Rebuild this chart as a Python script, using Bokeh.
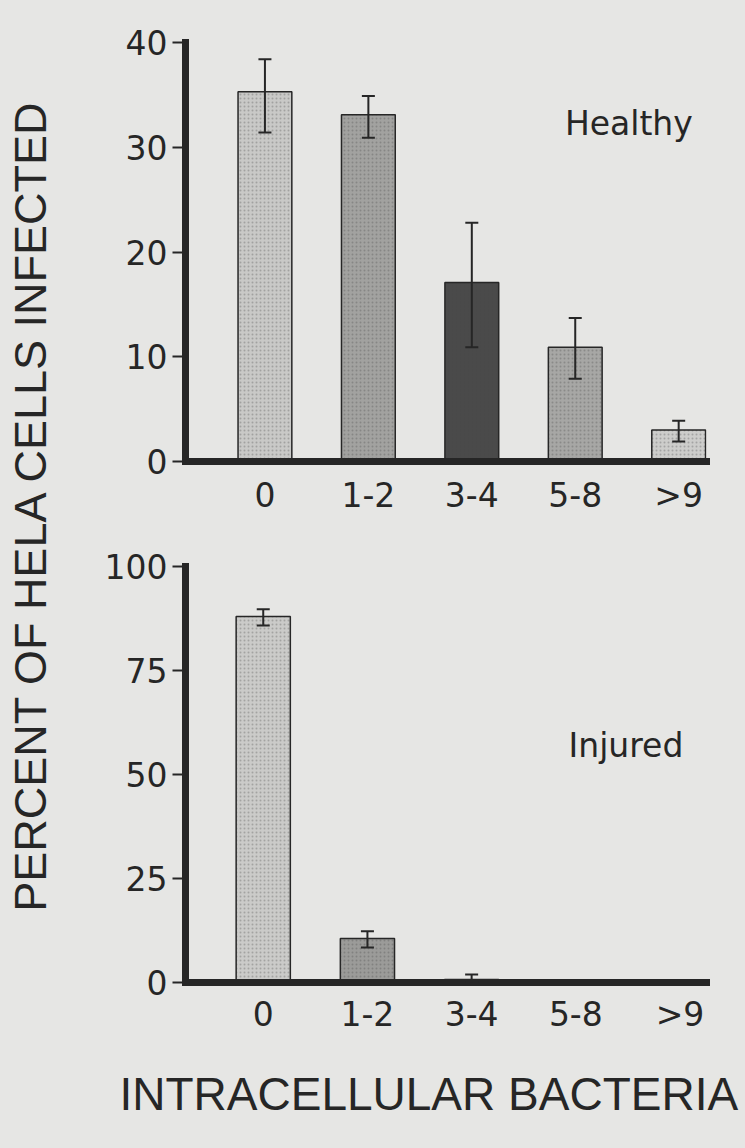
from bokeh.plotting import figure
from bokeh.models import Range1d, FixedTicker, ColumnDataSource, Whisker, TeeHead, Label, Title
from bokeh.layouts import row, column
from bokeh.embed import file_html
from bokeh.resources import INLINE
import math

# ---------------- data ----------------
categories = ["0", "1-2", "3-4", "5-8", ">9"]

healthy_values = [35.3, 33.1, 17.1, 10.9, 3.0]
healthy_lower = [31.4, 30.9, 10.9, 7.9, 1.9]
healthy_upper = [38.4, 34.9, 22.8, 13.7, 3.9]

injured_values = [88.0, 10.6, 0.7, 0.0, 0.0]
injured_lower = [85.8, 8.4, 0.0, 0.0, 0.0]
injured_upper = [89.7, 12.3, 1.9, 0.0, 0.0]

healthy_ticks = [0, 10, 20, 30, 40]
injured_ticks = [0, 25, 50, 75, 100]

healthy_colors = ["#c9c9c7", "#a2a2a0", "#4a4a4a", "#a7a7a5", "#cdcdcb"]
injured_colors = ["#cbcbc9", "#9b9b99", "#c2c2c0", "#c2c2c0", "#c2c2c0"]

# ---------------- style ----------------
BG = "#e6e6e4"
INK = "#262626"
SMALL_FONT = "DejaVu Sans"
BIG_FONT = "Liberation Sans"

TOTAL_W = 745
TOTAL_H = 1148
STRIP_W = 70
PANEL_W = TOTAL_W - STRIP_W
TOP_H = 530
BOT_H = TOTAL_H - TOP_H


def base_fig(width, height, y_end, x_start, x_end, borders):
    p = figure(width=width, height=height, output_backend="svg", toolbar_location=None,
               x_range=Range1d(x_start, x_end), y_range=Range1d(0, y_end),
               min_border_left=borders[0], min_border_right=borders[1],
               min_border_top=borders[2], min_border_bottom=borders[3])
    p.background_fill_color = BG
    p.border_fill_color = BG
    p.outline_line_color = None
    p.xgrid.visible = False
    p.ygrid.visible = False
    return p


def blank_fig(width, height):
    p = figure(width=width, height=height, output_backend="svg", toolbar_location=None,
               x_range=Range1d(0, width), y_range=Range1d(0, height),
               x_axis_type=None, y_axis_type=None,
               min_border_left=0, min_border_right=0, min_border_top=0, min_border_bottom=0)
    p.background_fill_color = BG
    p.border_fill_color = BG
    p.outline_line_color = None
    p.xgrid.visible = False
    p.ygrid.visible = False
    return p


def style_axes(p, yticks):
    idx = list(range(len(categories)))
    p.xaxis.ticker = FixedTicker(ticks=idx)
    p.xaxis.major_label_overrides = {i: c for i, c in zip(idx, categories)}
    p.yaxis.ticker = FixedTicker(ticks=yticks)
    for ax in (p.xaxis, p.yaxis):
        ax.axis_line_width = 7
        ax.axis_line_color = INK
        ax.axis_line_cap = "square"
        ax.minor_tick_line_color = None
        ax.major_label_text_font = SMALL_FONT
        ax.major_label_text_font_size = "33px"
        ax.major_label_text_color = INK
    p.xaxis.major_tick_line_color = None
    p.xaxis.major_label_standoff = 8
    p.yaxis.major_tick_in = 0
    p.yaxis.major_tick_out = 13
    p.yaxis.major_tick_line_width = 2
    p.yaxis.major_tick_line_color = INK
    p.yaxis.major_label_standoff = 5


def draw_bars(p, values, lower, upper, colors):
    idx = list(range(len(categories)))
    src = ColumnDataSource(dict(x=idx, top=values, color=colors))
    p.vbar(x="x", top="top", bottom=0, width=0.52, source=src,
           fill_color="color", line_color=INK, line_width=1.5,
           hatch_pattern=".", hatch_color="#444444", hatch_alpha=0.3, hatch_scale=4)
    keep = [i for i in idx if upper[i] > values[i]]
    wsrc = ColumnDataSource(dict(x=[idx[i] for i in keep],
                                 lower=[lower[i] for i in keep],
                                 upper=[upper[i] for i in keep]))
    w = Whisker(base="x", lower="lower", upper="upper", source=wsrc,
                line_color=INK, line_width=2, level="overlay",
                upper_head=TeeHead(size=13, line_color=INK, line_width=2),
                lower_head=TeeHead(size=13, line_color=INK, line_width=2))
    p.add_layout(w)


# ---------------- top panel (Healthy) ----------------
top = base_fig(PANEL_W, TOP_H, 40, -0.768, 4.269, (115, 35, 42, 69))
draw_bars(top, healthy_values, healthy_lower, healthy_upper, healthy_colors)
style_axes(top, healthy_ticks)
top.add_layout(Label(x=2.9, y=32.3, text="Healthy", text_font=SMALL_FONT,
                     text_font_size="33px", text_color=INK,
                     text_align="left", text_baseline="middle"))

# ---------------- bottom panel (Injured) ----------------
bot = base_fig(PANEL_W, BOT_H, 100, -0.746, 4.254, (114, 39, 36, BOT_H - 36 - 416))
draw_bars(bot, injured_values, injured_lower, injured_upper, injured_colors)
style_axes(bot, injured_ticks)
bot.xaxis.major_label_standoff = 6
bot.add_layout(Label(x=2.93, y=57.0, text="Injured", text_font=SMALL_FONT,
                     text_font_size="33px", text_color=INK,
                     text_align="left", text_baseline="middle"))
bot.add_layout(Title(text="INTRACELLULAR BACTERIA", align="left", offset=-66,
                     standoff=58, text_font=BIG_FONT, text_font_size="46px",
                     text_line_height=1.0,
                     text_font_style="normal", text_color=INK), "below")

# ---------------- y-title strip ----------------
strip = blank_fig(STRIP_W, TOTAL_H)
strip.add_layout(Label(x=30, y=643, text="PERCENT OF HELA CELLS INFECTED",
                       angle=math.pi / 2, text_font=BIG_FONT, text_font_size="45px",
                       text_color=INK, text_align="center", text_baseline="middle"))

layout = row(strip, column(top, bot, styles={"background-color": BG}),
             styles={"background-color": BG})
open("out.html", "w").write(file_html(layout, INLINE))
